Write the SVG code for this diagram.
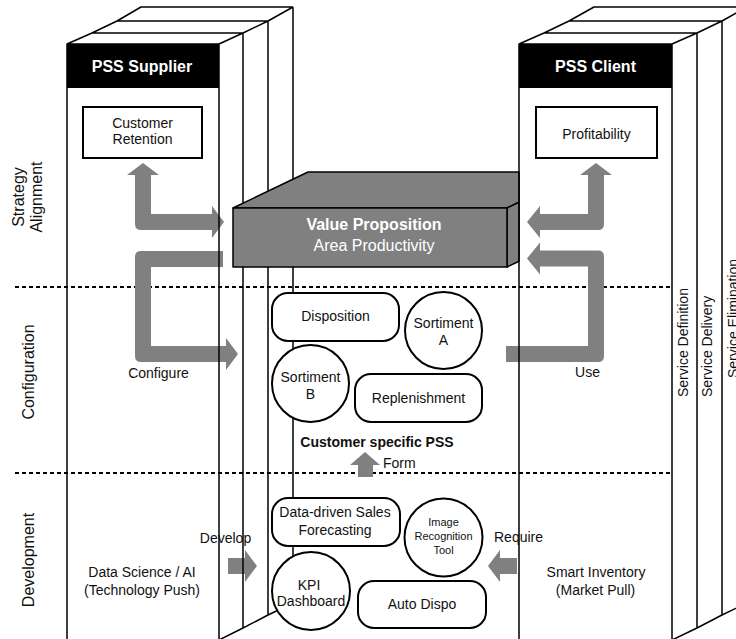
<svg xmlns="http://www.w3.org/2000/svg" width="736" height="639" viewBox="0 0 736 639">
<style>
  .t{font-family:"Liberation Sans",Arial,sans-serif;font-size:14px;fill:#111;text-anchor:middle}
  .sm{font-size:11px}
  .bold{font-weight:bold}
  .big{font-size:16px}
  .hd{font-family:"Liberation Sans",Arial,sans-serif;font-size:16px;font-weight:bold;fill:#fff;text-anchor:middle}
  .edge{fill:none;stroke:#000;stroke-width:1.5;stroke-linejoin:round}
  .node{fill:#fff;stroke:#000;stroke-width:2}
  .arrow{fill:#808080}
  .dash{stroke:#000;stroke-width:2;stroke-dasharray:4 3}
  .block{fill:#808080;stroke:#000;stroke-width:1.5;stroke-linejoin:round}
</style>

<!-- phase dividers -->
<g id="phase-dividers">
  <line class="dash" x1="15" y1="287" x2="672" y2="287"/>
  <line class="dash" x1="15" y1="473" x2="672" y2="473"/>
</g>

<!-- connectors: broad grey arrows -->
<g id="connectors">
  <!-- supplier: retention <-> value proposition -->
  <path class="arrow" d="M143,163 L159,175 L151,175 L151,214 L212,214 L212,206 L224,222 L212,238 L212,230 L141,230 Q135,230 135,224 L135,175 L127,175 Z"/>
  <!-- supplier: value proposition -> configure -->
  <path class="arrow" d="M223,251 L141,251 Q135,251 135,257 L135,356 Q135,362 141,362 L226,362 L226,370 L238,354 L226,338 L226,346 L151,346 L151,267 L223,267 Z"/>
  <!-- client: profitability <-> value proposition -->
  <path class="arrow" d="M596,163 L612,175 L604,175 L604,224 Q604,230 598,230 L540,230 L540,238 L527,222 L540,206 L540,214 L588,214 L588,175 L580,175 Z"/>
  <!-- client: use -> value proposition -->
  <path class="arrow" d="M527,258.5 L540,242.5 L540,250.5 L598,250.5 Q604,250.5 604,256.5 L604,356 Q604,362 598,362 L506,362 L506,346 L588,346 L588,266.5 L540,266.5 L540,274.5 Z"/>
  <!-- form -->
  <path class="arrow" d="M365,452 L380,465 L373,465 L373,477 L358,477 L358,465 L350,465 Z"/>
  <!-- develop -->
  <path class="arrow" d="M228,558 L245,558 L245,550 L257,566 L245,582 L245,574 L228,574 Z"/>
  <!-- require -->
  <path class="arrow" d="M517,558 L500,558 L500,550 L488,566 L500,582 L500,574 L517,574 Z"/>
</g>

<!-- PSS supplier column -->
<g id="supplier">
  <rect x="67" y="44" width="152" height="44" fill="#000"/>
  <path class="edge" d="M67,644 V44 H219 V644 M67,44 L92,33 L117,21 L141,7 H293 M219,44 L243,33 L268,21 L293,7 M92,33 H243 M117,21 H268 M243,33 V628 M268,21 V615 M293,7 V603 M219,640 L243,628 L268,615 L293,603"/>
  <text class="hd" x="142" y="72">PSS Supplier</text>
</g>

<!-- value proposition block -->
<g id="value-proposition">
  <path class="block" d="M233,208 L308,172 H519 V202.2 L507,208 Z"/>
  <path class="block" d="M507,208 L519,202.2 V261.2 L507,267 Z"/>
  <rect class="block" x="233" y="208" width="274" height="59"/>
  <text class="t big bold" x="374" y="230" style="fill:#fff">Value Proposition</text>
  <text class="t big" x="374" y="251" style="fill:#fff">Area Productivity</text>
</g>

<!-- PSS client column -->
<g id="client">
  <rect x="519" y="44" width="153" height="44" fill="#000"/>
  <path class="edge" d="M519,644 V44 H672 V644 M519,44 L544,33 L569,21 L594,7 H750 M672,44 L697,33 L722,21 L747,7 M544,33 H697 M569,21 H722 M697,33 V628 M722,21 V615 M672,640 L697,628 L722,615 L747,603"/>
  <text class="hd" x="595.5" y="72">PSS Client</text>
  <text class="t" style="text-anchor:start" transform="translate(688,397) rotate(-90)">Service Definition</text>
  <text class="t" style="text-anchor:start" transform="translate(712,397) rotate(-90)">Service Delivery</text>
  <text class="t" style="text-anchor:start" transform="translate(738,378) rotate(-90)">Service Elimination</text>
</g>

<!-- goals -->
<g id="customer-retention">
  <rect class="node" x="83" y="107" width="119" height="51"/>
  <text class="t" x="142.5" y="127.5">Customer</text>
  <text class="t" x="142.5" y="144">Retention</text>
</g>
<g id="profitability">
  <rect class="node" x="536" y="107" width="121" height="51"/>
  <text class="t" x="596.5" y="138.5">Profitability</text>
</g>

<!-- configuration modules -->
<g id="disposition">
  <rect class="node" x="272" y="293" width="127" height="48" rx="16"/>
  <text class="t" x="335.5" y="321">Disposition</text>
</g>
<g id="sortiment-a">
  <circle class="node" cx="443.5" cy="330.5" r="38.5"/>
  <text class="t" x="443.5" y="328">Sortiment</text>
  <text class="t" x="443.5" y="345">A</text>
</g>
<g id="sortiment-b">
  <circle class="node" cx="310.5" cy="383.5" r="38.5"/>
  <text class="t" x="310.5" y="381.5">Sortiment</text>
  <text class="t" x="310.5" y="399">B</text>
</g>
<g id="replenishment">
  <rect class="node" x="355" y="374" width="127" height="48" rx="16"/>
  <text class="t" x="418.5" y="403">Replenishment</text>
</g>
<g id="customer-specific-pss">
  <text class="t bold" x="377" y="447">Customer specific PSS</text>
</g>

<!-- development modules -->
<g id="sales-forecasting">
  <rect class="node" x="272" y="498" width="128" height="48" rx="16"/>
  <text class="t" x="335" y="517">Data-driven Sales</text>
  <text class="t" x="335" y="535">Forecasting</text>
</g>
<g id="image-recognition">
  <circle class="node" cx="443.5" cy="537.5" r="39"/>
  <text class="t sm" x="443.5" y="526">Image</text>
  <text class="t sm" x="443.5" y="539.5">Recognition</text>
  <text class="t sm" x="443.5" y="553.5">Tool</text>
</g>
<g id="kpi-dashboard">
  <circle class="node" cx="311" cy="591" r="39"/>
  <text class="t" x="309" y="590">KPI</text>
  <text class="t" x="311" y="606">Dashboard</text>
</g>
<g id="auto-dispo">
  <rect class="node" x="358" y="581" width="128" height="47" rx="16"/>
  <text class="t" x="422" y="608.5">Auto Dispo</text>
</g>

<!-- arrow labels and sources -->
<g id="labels">
  <text class="t" x="158.5" y="378">Configure</text>
  <text class="t" x="587.5" y="377">Use</text>
  <text class="t" x="383" y="468" style="text-anchor:start">Form</text>
  <text class="t" x="225.5" y="543">Develop</text>
  <text class="t" x="518.5" y="542">Require</text>
  <text class="t" x="142" y="577">Data Science / AI</text>
  <text class="t" x="142" y="594.5">(Technology Push)</text>
  <text class="t" x="596" y="577">Smart Inventory</text>
  <text class="t" x="595.5" y="594.5">(Market Pull)</text>
</g>

<!-- phase names -->
<g id="phases">
  <text class="t big" transform="translate(24,197) rotate(-90)">Strategy</text>
  <text class="t big" transform="translate(42,197) rotate(-90)">Alignment</text>
  <text class="t big" transform="translate(34,372) rotate(-90)">Configuration</text>
  <text class="t big" transform="translate(34,560) rotate(-90)">Development</text>
</g>
</svg>
